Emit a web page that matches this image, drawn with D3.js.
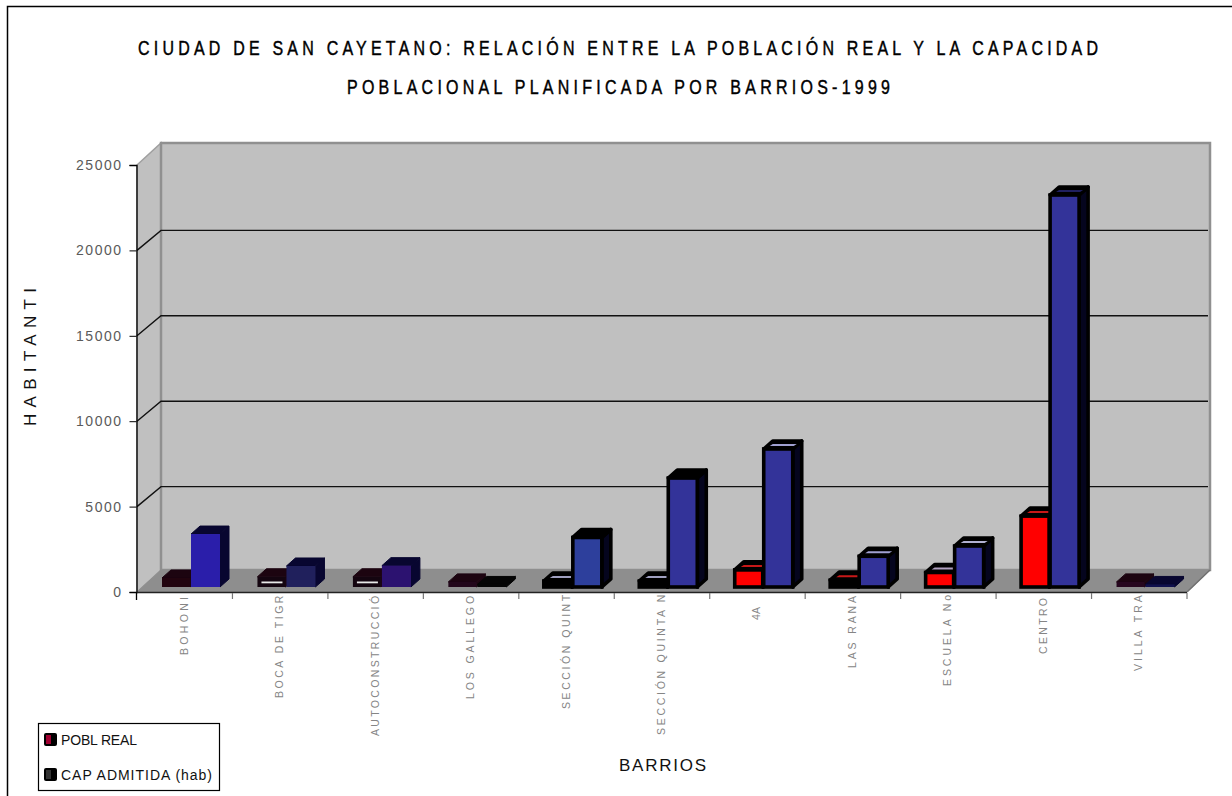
<!DOCTYPE html>
<html>
<head>
<meta charset="utf-8">
<script src="https://cdnjs.cloudflare.com/ajax/libs/d3/7.8.5/d3.min.js"></script>
<style>
html,body{margin:0;padding:0;background:#fff}
svg{display:block}
text{font-family:"Liberation Sans",Arial,sans-serif}
</style>
</head>
<body>
<svg id="chart" width="1232" height="796"></svg>
<script>
const categories = ["BOHONI","BOCA DE TIGRE","AUTOCONSTRUCCIÓN","LOS GALLEGOS","SECCIÓN QUINTA","SECCIÓN QUINTA No","4A","LAS RANAS","ESCUELA No2","CENTRO","VILLA TRAV"];
const poblReal = [530,600,600,300,350,350,1000,400,850,4150,300];
const capAdmitida = [3100,1230,1250,150,2900,6380,8080,1800,2400,22950,150];
const seriesNames = ["POBL REAL","CAP ADMITIDA (hab)"];
const yTicks = [0,5000,10000,15000,20000,25000];
const titleLines = ["CIUDAD DE SAN CAYETANO: RELACIÓN ENTRE LA POBLACIÓN REAL Y LA CAPACIDAD","POBLACIONAL PLANIFICADA POR BARRIOS-1999"];
const yTitle = "HABITANTI";
const xTitle = "BARRIOS";

// per-category rendering tones (the reference's dark compression artefacts)
const redTone = ["#22040f","#140510","#140510","#22061a","#000000","#000000","#ff0000","#000000","#ff0000","#ff0000","#26061e"];
const blueTone = ["#2a1eaa","#20205c","#2c1270","#050505","#2d3f9c","#333399","#333399","#333399","#333399","#333399","#10104e"];
const redSlit = [null,null,null,null,"#a0a0c0","#a0a0c0","#c81818","#c81818","#b0a0c0","#c81818",null];
const blueSlit = [null,null,null,null,null,null,"#a0a0d0","#a0a0d0","#b0b0d0","#202060",null];
const heavyStroke = [false,false,false,false,true,true,true,true,true,true,false];
const whiteDash = [false,true,true,false,false,false,false,false,false,false,false];

const svg = d3.select("#chart");
const dx = 24, dy = -22, gridDy = -20, barDx = 9, barDy = -8, baseLift = 5;
const x0 = 137, x1 = 1187, y0 = 592, y1 = 165;

const x = d3.scaleBand().domain(categories).range([x0,x1]);
const sub = d3.scaleBand().domain(seriesNames).range([25,83]);
const y = d3.scaleLinear().domain([0,25000]).range([y0,y1]);

// outer frame: open on the right and at the bottom
svg.append("path").attr("d","M7.5,796V6.5H1232")
  .attr("fill","none").attr("stroke","#000").attr("stroke-width",1.5);

// titles: tall narrow letters
titleLines.forEach((t,i)=>{
  const ext = i===0 ? [138,1098] : [347,890];
  svg.append("text").attr("transform",`translate(${ext[0]},${i===0?55:94}) scale(1,1.22)`).text(t)
    .attr("font-size",16).attr("fill","#000").attr("stroke","#000").attr("stroke-width",0.35)
    .attr("textLength",ext[1]-ext[0]).attr("lengthAdjust","spacing");
});

// category labels
const labelEnd = {"BOHONI":597,"4A":607,"CENTRO":598};
const labelLen = {"BOHONI":58,"BOCA DE TIGRE":112,"AUTOCONSTRUCCIÓN":150,"LOS GALLEGOS":113,"SECCIÓN QUINTA":123,"SECCIÓN QUINTA No":149,"4A":13,"LAS RANAS":82,"ESCUELA No2":100,"CENTRO":56,"VILLA TRAV":85};
const labelG = svg.append("g");
categories.forEach(c=>{
  const end = labelEnd[c]||586;
  const len = labelLen[c];
  labelG.append("text")
    .attr("transform",`translate(${x(c)+x.bandwidth()/2-1},${end+len}) rotate(-90)`)
    .attr("x",0).attr("y",4).text(c)
    .attr("font-size",10.5).attr("fill","#858585")
    .attr("textLength",len).attr("lengthAdjust","spacing");
});

// walls and floor
const wall = svg.append("g");
wall.append("polygon")
  .attr("points",[[x0,y1],[x0+dx,y1+dy],[x0+dx,y0+dy],[x0,y0]].join(" "))
  .attr("fill","#c0c0c0").attr("stroke","#a0a0a0").attr("stroke-width",1.5);
wall.append("rect").attr("x",x0+dx).attr("y",y1+dy)
  .attr("width",x1-x0-1).attr("height",y0-y1)
  .attr("fill","#c0c0c0").attr("stroke","#909090").attr("stroke-width",2.5);
wall.append("polygon")
  .attr("points",[[x0,y0],[x0+dx,y0+dy],[x1+dx-1,y0+dy],[x1,y0]].join(" "))
  .attr("fill","#8e8e8e").attr("stroke","#8e8e8e").attr("stroke-width",1);

// gridlines
const grid = svg.append("g").attr("fill","none").attr("stroke","#111").attr("stroke-width",1.4);
yTicks.filter(v=>v>0 && v<25000).forEach(v=>{
  grid.append("path").attr("d",d3.line()([[x0,y(v)],[x0+dx,y(v)+gridDy],[x1+dx-3,y(v)+gridDy]]));
});

// axes
const yAxis = d3.axisLeft(y).tickValues(yTicks).tickSize(7).tickPadding(7).tickFormat(d3.format("d"));
const yG = svg.append("g").attr("transform",`translate(${x0-0.5},0)`).call(yAxis);
yG.select(".domain").attr("stroke","#000").attr("stroke-width",1.3);
yG.selectAll("text").attr("font-size",14).attr("fill","#5a5a5a").attr("letter-spacing",1.5);
yG.selectAll("line").attr("stroke","#000");

svg.append("line").attr("x1",x0).attr("x2",x1).attr("y1",y0+0.5).attr("y2",y0+0.5)
  .attr("stroke","#222").attr("stroke-width",1.3);
svg.append("line").attr("x1",x0-0.5).attr("x2",x0-0.5).attr("y1",y0).attr("y2",y0+8)
  .attr("stroke","#000").attr("stroke-width",1.3);
svg.append("line").attr("x1",x1).attr("x2",x1+dx-1).attr("y1",y0).attr("y2",y0+dy)
  .attr("stroke","#707070").attr("stroke-width",1.5);
categories.forEach(c=>{
  const tx = x(c)+x.step();
  svg.append("line").attr("x1",tx).attr("x2",tx).attr("y1",y0+1).attr("y2",y0+7)
    .attr("stroke","#777").attr("stroke-width",1.2);
});

// bars
function bar(g,left,w,top,base,front,heavy,slit,darkFill){
  const sw = heavy?3.6:1;
  const edge = heavy?"#000":darkFill;
  g.append("polygon").attr("points",[[left+w,top],[left+w+barDx,top+barDy],[left+w+barDx,base+barDy],[left+w,base]].join(" "))
    .attr("fill",heavy?"#05051e":darkFill).attr("stroke",edge).attr("stroke-width",sw).attr("stroke-linejoin","round");
  g.append("polygon").attr("points",[[left,top],[left+barDx,top+barDy],[left+w+barDx,top+barDy],[left+w,top]].join(" "))
    .attr("fill",heavy?"#000":darkFill).attr("stroke",edge).attr("stroke-width",sw).attr("stroke-linejoin","round");
  if(slit){
    g.append("polygon").attr("points",[[left+6,top-3],[left+9,top+barDy+3],[left+w+4,top+barDy+3],[left+w+1,top-3]].join(" "))
      .attr("fill",slit);
  }
  g.append("rect").attr("x",left).attr("y",top).attr("width",w).attr("height",base-top)
    .attr("fill",front).attr("stroke",heavy?"#000":"none").attr("stroke-width",sw);
}
const barsG = svg.append("g");
categories.forEach((c,i)=>{
  const g = barsG.append("g");
  const base = y0-baseLift;
  const left = s=>x(c)+sub(s);
  const w = sub.bandwidth()-1;
  const h = heavyStroke[i];
  bar(g,left(seriesNames[0]),w,y(poblReal[i])-baseLift,base,redTone[i],h,redSlit[i],"#1c0410");
  bar(g,left(seriesNames[1]),w+1,y(capAdmitida[i])-baseLift,base,blueTone[i],h,blueSlit[i],i===3?"#050505":"#080630");
  if(whiteDash[i]){
    g.append("rect").attr("x",left(seriesNames[0])+4).attr("y",base-5.5).attr("width",21).attr("height",1.8).attr("fill","#e8e8e8");
  }
});

// axis titles
svg.append("text").attr("transform","translate(36,426) rotate(-90)").text(yTitle)
  .attr("font-size",17).attr("fill","#111").attr("textLength",138).attr("lengthAdjust","spacing");
svg.append("text").attr("x",619).attr("y",771).text(xTitle)
  .attr("font-size",17).attr("fill","#111").attr("textLength",87).attr("lengthAdjust","spacing");

// legend
const lg = svg.append("g");
lg.append("rect").attr("x",38.5).attr("y",723.5).attr("width",181).attr("height",67)
  .attr("fill","#fff").attr("stroke","#000").attr("stroke-width",1.2);
const legendColor = d3.scaleOrdinal().domain(seriesNames).range(["#a00030","#333"]);
const legendRow = d3.scalePoint().domain(seriesNames).range([740,775]);
const legendLen = d3.scaleOrdinal().domain(seriesNames).range([76,151]);
seriesNames.forEach(s=>{
  const cy = legendRow(s);
  lg.append("rect").attr("x",44).attr("y",cy-7).attr("width",13).attr("height",13).attr("rx",2).attr("fill","#000");
  lg.append("rect").attr("x",46).attr("y",cy-5).attr("width",5).attr("height",9).attr("fill",legendColor(s));
  lg.append("text").attr("x",61).attr("y",cy+5).text(s)
    .attr("font-size",14).attr("fill","#111")
    .attr("textLength",legendLen(s)).attr("lengthAdjust","spacing");
});
</script>
</body>
</html>
